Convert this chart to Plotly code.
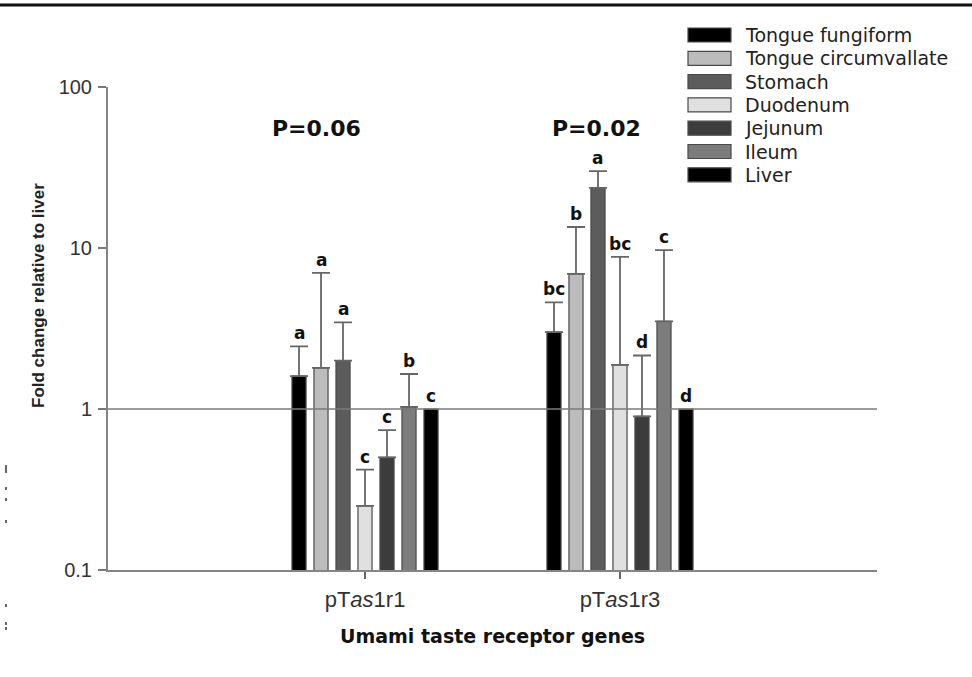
import math
import plotly.graph_objects as go

# ---------------- data ----------------
genes = ["pT<i>as</i>1r1", "pT<i>as</i>1r3"]
tissues = ["Tongue fungiform", "Tongue circumvallate", "Stomach", "Duodenum",
           "Jejunum", "Ileum", "Liver"]
means = {
    "Tongue fungiform":     [1.6, 3.0],
    "Tongue circumvallate": [1.8, 6.9],
    "Stomach":              [2.0, 23.6],
    "Duodenum":             [0.25, 1.88],
    "Jejunum":              [0.50, 0.90],
    "Ileum":                [1.03, 3.5],
    "Liver":                [1.0, 1.0],
}
err_top = {
    "Tongue fungiform":     [2.45, 4.6],
    "Tongue circumvallate": [7.0, 13.5],
    "Stomach":              [3.45, 30.0],
    "Duodenum":             [0.42, 8.8],
    "Jejunum":              [0.74, 2.15],
    "Ileum":                [1.65, 9.7],
    "Liver":                [None, None],
}
letters = {
    "Tongue fungiform":     ["a", "bc"],
    "Tongue circumvallate": ["a", "b"],
    "Stomach":              ["a", "a"],
    "Duodenum":             ["c", "bc"],
    "Jejunum":              ["c", "d"],
    "Ileum":                ["b", "c"],
    "Liver":                ["c", "d"],
}
p_labels = ["P=0.06", "P=0.02"]
y_ticks = [0.1, 1, 10, 100]
y_tick_text = ["0.1", "1", "10", "100"]

# ---------------- style ----------------
colors = ["#000000", "#bcbcbc", "#5c5c5c", "#e0e0e0", "#3c3c3c", "#7c7c7c", "#000000"]
W, H = 972, 677
L, R, T, B = 108, 95, 87, 107
pw, ph = W - L - R, H - T - B
BARGAP = 0.396
slot = (1 - BARGAP) / len(tissues)
XR = [-1.008, 2.008]
xpos = list(range(len(genes)))


def px(xp):
    return (xp - L) / pw


def py(yp):
    return (H - B - yp) / ph


fig = go.Figure()
for i, t in enumerate(tissues):
    arr = [(e - m) if e is not None else 0 for e, m in zip(err_top[t], means[t])]
    has_err = any(e is not None for e in err_top[t])
    fig.add_trace(go.Bar(
        x=xpos, y=means[t], name=t, showlegend=False,
        marker=dict(color=colors[i], line=dict(color="#4a4a4a", width=1.2)),
        error_y=dict(type="data", symmetric=False, array=arr,
                     arrayminus=[0] * len(arr), visible=has_err,
                     color="#666666", thickness=1.8, width=9),
    ))

# reference line at 1
fig.add_trace(go.Scatter(x=XR, y=[1, 1], mode="lines", showlegend=False,
                         line=dict(color="#7a7a7a", width=1.6), hoverinfo="skip"))

annotations = []
for i, t in enumerate(tissues):
    for g in range(len(genes)):
        top = err_top[t][g] if err_top[t][g] is not None else means[t][g]
        annotations.append(dict(
            x=xpos[g] + (i - 3) * slot, y=math.log10(top), xref="x", yref="y",
            text=f"<b>{letters[t][g]}</b>", showarrow=False, yanchor="bottom",
            yshift=1, font=dict(family="DejaVu Sans", size=17, color="#111111")))

p_x = [316, 596]
for g in range(len(genes)):
    annotations.append(dict(
        x=px(p_x[g]), y=py(128), xref="paper", yref="paper", showarrow=False,
        text=f"<b>{p_labels[g]}</b>", xanchor="center", yanchor="middle",
        font=dict(family="DejaVu Sans", size=22, color="#111111")))

# y-axis title
annotations.append(dict(
    x=px(38), y=py(296), xref="paper", yref="paper", showarrow=False,
    text="<b>Fold change relative to liver</b>", textangle=-90,
    xanchor="center", yanchor="middle",
    font=dict(family="Liberation Sans", size=17, color="#222222")))
# x-axis title
annotations.append(dict(
    x=px(492), y=py(636), xref="paper", yref="paper", showarrow=False,
    text="<b>Umami taste receptor genes</b>", xanchor="center", yanchor="middle",
    font=dict(family="DejaVu Sans", size=19, color="#111111")))

shapes = []
# manual legend
for i, t in enumerate(tissues):
    yc = 35 + i * 23.3
    shapes.append(dict(type="rect", xref="paper", yref="paper",
                       x0=px(688), x1=px(731), y0=py(yc + 7), y1=py(yc - 7),
                       fillcolor=colors[i], line=dict(color="#4a4a4a", width=1.2)))
    annotations.append(dict(
        x=px(743), y=py(yc), xref="paper", yref="paper", showarrow=False,
        text=t, xanchor="left", yanchor="middle",
        font=dict(family="DejaVu Sans", size=19, color="#222222")))

# top rule
shapes.append(dict(type="line", xref="paper", yref="paper",
                   x0=px(0), x1=px(W), y0=py(5), y1=py(5),
                   line=dict(color="#111111", width=3)))
# scan specks at left
for (y0, y1) in [(465, 473), (487, 490), (498, 501), (520, 523), (604, 607), (622, 625), (627, 630)]:
    shapes.append(dict(type="line", xref="paper", yref="paper",
                       x0=px(6), x1=px(6), y0=py(y0), y1=py(y1),
                       line=dict(color="#333333", width=1.5)))

fig.update_layout(
    width=W, height=H, margin=dict(l=L, r=R, t=T, b=B, pad=0),
    paper_bgcolor="white", plot_bgcolor="white",
    barmode="group", bargap=BARGAP, bargroupgap=0.36,
    showlegend=False, annotations=annotations, shapes=shapes,
    xaxis=dict(range=XR, tickvals=xpos, ticktext=genes, showgrid=False,
               zeroline=False, showline=True, linecolor="#858585", linewidth=2,
               ticks="outside", ticklen=7, tickcolor="#666666", tickwidth=1.5,
               ticklabelstandoff=2,
               tickfont=dict(family="Liberation Sans", size=22, color="#333333")),
    yaxis=dict(type="log", range=[-1, 2], tickvals=y_ticks, ticktext=y_tick_text,
               showgrid=False, zeroline=False, showline=True, linecolor="#858585",
               linewidth=2, ticks="outside", ticklen=8, tickcolor="#777777",
               tickwidth=1.5, ticklabelstandoff=2,
               tickfont=dict(family="Liberation Sans", size=20, color="#333333")),
    font=dict(family="Liberation Sans"),
)

fig.write_html("out.html")
